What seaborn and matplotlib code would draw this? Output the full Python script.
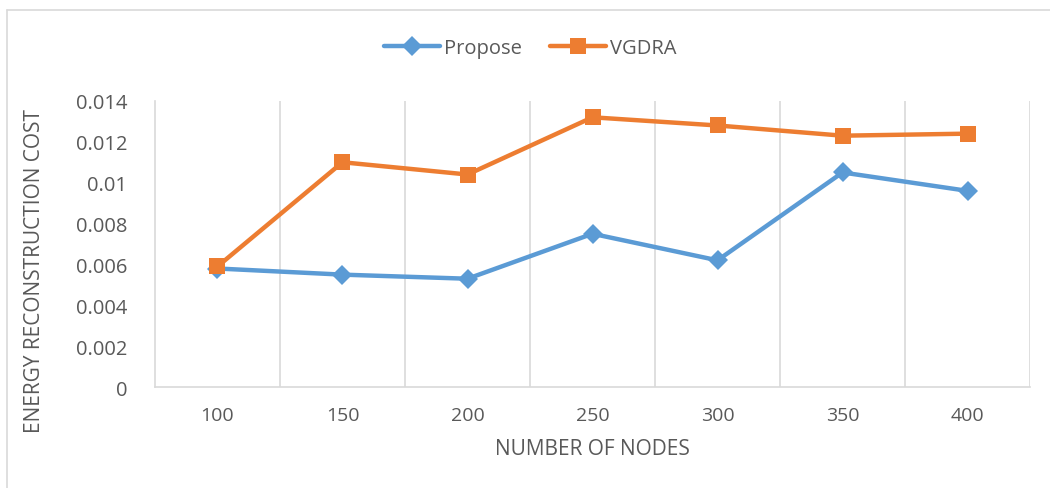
import matplotlib
matplotlib.use("Agg")
import matplotlib.pyplot as plt
from matplotlib.lines import Line2D
import numpy as np
import pandas as pd
import seaborn as sns

sns.set_style("white")
plt.rcParams['font.family'] = ['Open Sans', 'DejaVu Sans']

nodes = ['100', '150', '200', '250', '300', '350', '400']
propose = [0.0058, 0.0055, 0.0053, 0.0075, 0.0062, 0.0105, 0.0096]
vgdra = [0.0059, 0.0110, 0.0104, 0.0132, 0.0128, 0.0123, 0.0124]
series = ['Propose', 'VGDRA']

df = pd.DataFrame({
    'pos': list(range(len(nodes))) * 2,
    'cost': propose + vgdra,
    'method': ['Propose'] * len(nodes) + ['VGDRA'] * len(nodes),
})

colors = {'Propose': '#5B9BD5', 'VGDRA': '#ED7D31'}
markers = {'Propose': 'D', 'VGDRA': 's'}
msize = {'Propose': 10, 'VGDRA': 11}

fig = plt.figure(figsize=(10.5, 4.89), dpi=100)
ax = fig.add_axes([0.1476, 0.2065, 0.8334, 0.585])

for m in series:
    sub = df[df['method'] == m]
    sns.lineplot(data=sub, x='pos', y='cost', color=colors[m], marker=markers[m],
                 markersize=msize[m], markeredgewidth=0, linewidth=3.2, ax=ax,
                 legend=False, zorder=3)

# gridlines at category boundaries
for b in np.arange(0.5, len(nodes), 1.0):
    ax.axvline(b, color='#D9D9D9', linewidth=1.2, zorder=1)

ax.set_xlim(-0.5, len(nodes) - 0.5)
ax.set_ylim(0, 0.014)
ax.set_yticks(np.arange(0, 0.0141, 0.002))
ax.set_yticklabels(['0', '0.002', '0.004', '0.006', '0.008', '0.01', '0.012', '0.014'])
ax.set_xticks(range(len(nodes)))
ax.set_xticklabels(nodes)
ax.tick_params(axis='both', length=0, labelcolor='#595959')
ax.tick_params(axis='y', labelsize=14.5, pad=20)
ax.tick_params(axis='x', labelsize=14, pad=14)

for s in ['top', 'right']:
    ax.spines[s].set_visible(False)
ax.spines['left'].set_color('#D9D9D9')
ax.spines['bottom'].set_color('#D9D9D9')
ax.spines['left'].set_linewidth(1.2)
ax.spines['bottom'].set_linewidth(1.2)

ax.set_xlabel('NUMBER OF NODES', fontsize=15, color='#595959', labelpad=10)
ax.set_ylabel('ENERGY RECONSTRUCTION COST', fontsize=15, color='#595959')
ax.yaxis.set_label_coords(-0.126, 0.41)

handles = [Line2D([0], [0], color=colors[m], marker=markers[m], markersize=msize[m],
                  markeredgewidth=0, linewidth=3.2) for m in series]
fig.legend(handles, series, loc='center', bbox_to_anchor=(0.505, 0.9), ncol=2,
           frameon=False, fontsize=14.5, labelcolor='#595959', handlelength=2.8,
           columnspacing=1.4, handletextpad=0.2)

# chart area border (top and left visible)
fig.add_artist(Line2D([7 / 1050, 1], [1 - 11 / 489, 1 - 11 / 489], color='#D9D9D9',
                      linewidth=1.2, transform=fig.transFigure))
fig.add_artist(Line2D([7 / 1050, 7 / 1050], [0, 1 - 11 / 489], color='#D9D9D9',
                      linewidth=1.2, transform=fig.transFigure))

fig.savefig('out.png', dpi=100)
